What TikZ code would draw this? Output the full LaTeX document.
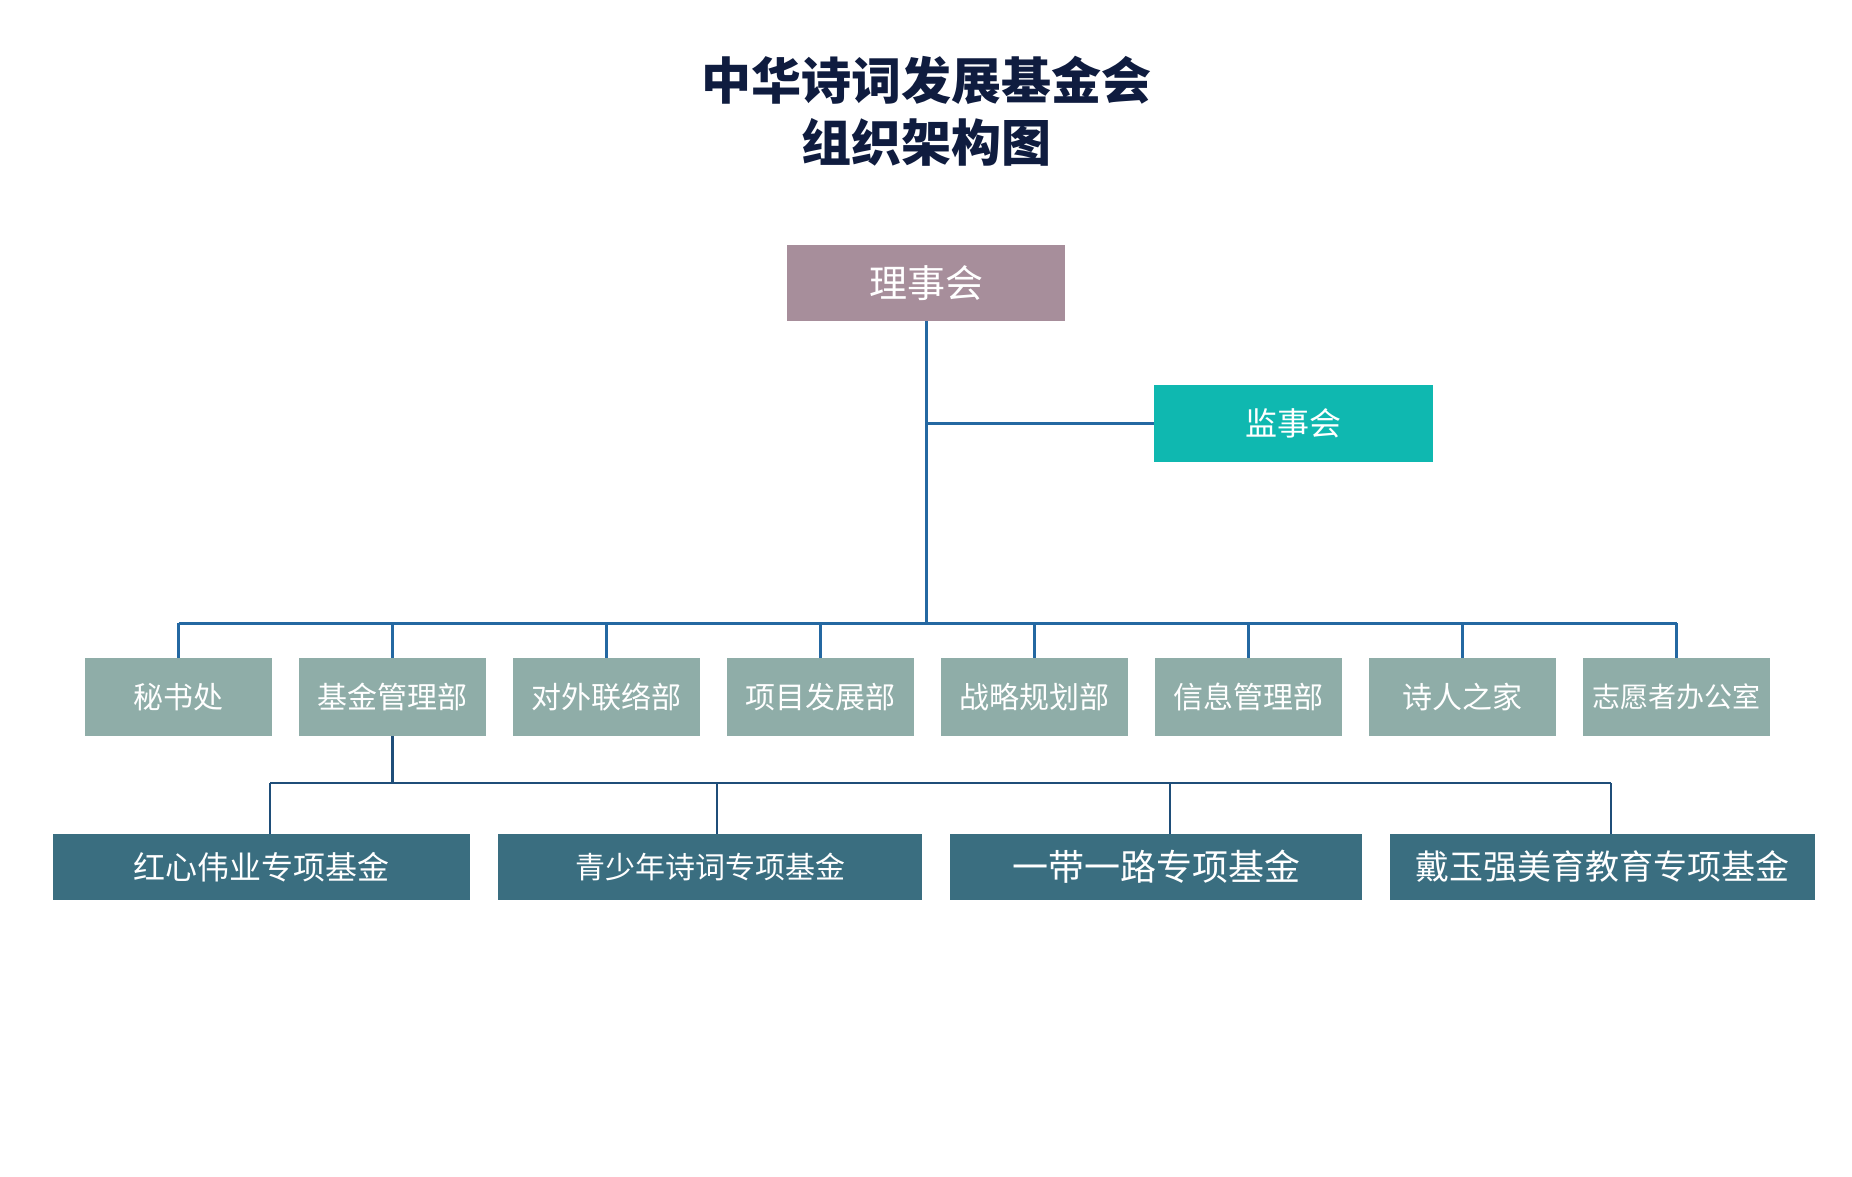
\documentclass[tikz,border=0pt]{standalone}
\usepackage{fontspec}
\newfontfamily\cjk{Noto Sans CJK SC}
\usepackage{xcolor}
\usetikzlibrary{positioning}
\definecolor{titlecol}{HTML}{0F1C3F}
\definecolor{boardcol}{HTML}{A78E9B}
\definecolor{supcol}{HTML}{0FB8B0}
\definecolor{deptcol}{HTML}{8FADA8}
\definecolor{fundcol}{HTML}{3A6E80}
\definecolor{linecol}{HTML}{2468A2}
\definecolor{sublinecol}{HTML}{1F4E79}
\newcommand{\fs}[1]{\cjk\fontsize{#1}{#1}\selectfont}
\begin{document}
\begin{tikzpicture}[x=0.5pt, y=-0.5pt, node distance=13.5pt,
    box/.style={rectangle, inner sep=0pt, outer sep=0pt, text=white, font=\fs{15}},
    dept/.style={box, fill=deptcol, minimum width=93.5pt, minimum height=39pt},
    fund/.style={box, fill=fundcol, minimum height=33pt},
    link/.style={draw=linecol, line width=1.5pt},
    sublink/.style={draw=sublinecol, line width=1.3pt}]
  \useasboundingbox (0,0) rectangle (1852,1177);
  \node[font=\cjk\bfseries\fontsize{25}{31}\selectfont, text=titlecol, align=center] (title) at (926,111)
    {中华诗词发展基金会\\组织架构图};
  \node[box, fill=boardcol, minimum width=139pt, minimum height=38pt, font=\fs{19}] (board) at (926,283) {理事会};
  \node[box, fill=supcol, minimum width=139.5pt, minimum height=38.5pt, font=\fs{16}] (sup) at (1293.5,423.5) {监事会};
  % departments
  \node[dept] (d1) at (178.5,697) {秘书处};
  \node[dept, right=of d1] (d2) {基金管理部};
  \node[dept, right=of d2] (d3) {对外联络部};
  \node[dept, right=of d3] (d4) {项目发展部};
  \node[dept, right=of d4] (d5) {战略规划部};
  \node[dept, right=of d5] (d6) {信息管理部};
  \node[dept, right=of d6] (d7) {诗人之家};
  \node[dept, right=of d7, font=\fs{14}] (d8) {志愿者办公室};
  % funds
  \node[fund, minimum width=208.5pt, font=\fs{16}] (f1) at (261.5,867) {红心伟业专项基金};
  \node[fund, minimum width=212pt, right=14pt of f1] (f2) {青少年诗词专项基金};
  \node[fund, minimum width=206pt, right=14pt of f2, font=\fs{18}] (f3) {一带一路专项基金};
  \node[fund, minimum width=212.5pt, right=14pt of f3, font=\fs{17}] (f4) {戴玉强美育教育专项基金};
  % connectors
  \coordinate (bus) at (926,623);
  \draw[link] (board.south) -- (bus);
  \draw[link] (board.south |- sup.west) -- (sup.west);
  \draw[link] (d1.north |- bus) -- (d8.north |- bus);
  \foreach \d in {d1,d2,d3,d4,d5,d6,d7,d8}
    \draw[link] (\d.north |- bus) -- (\d.north);
  \coordinate (j1) at (270,783);
  \coordinate (j2) at (717,783);
  \coordinate (j3) at (1170,783);
  \coordinate (j4) at (1611,783);
  \draw[sublink] (d2.south) -- (d2.south |- j1);
  \draw[sublink] (j1) -- (j4);
  \foreach \j/\f in {j1/f1, j2/f2, j3/f3, j4/f4}
    \draw[sublink] (\j) -- (\j |- \f.north);
\end{tikzpicture}
\end{document}
